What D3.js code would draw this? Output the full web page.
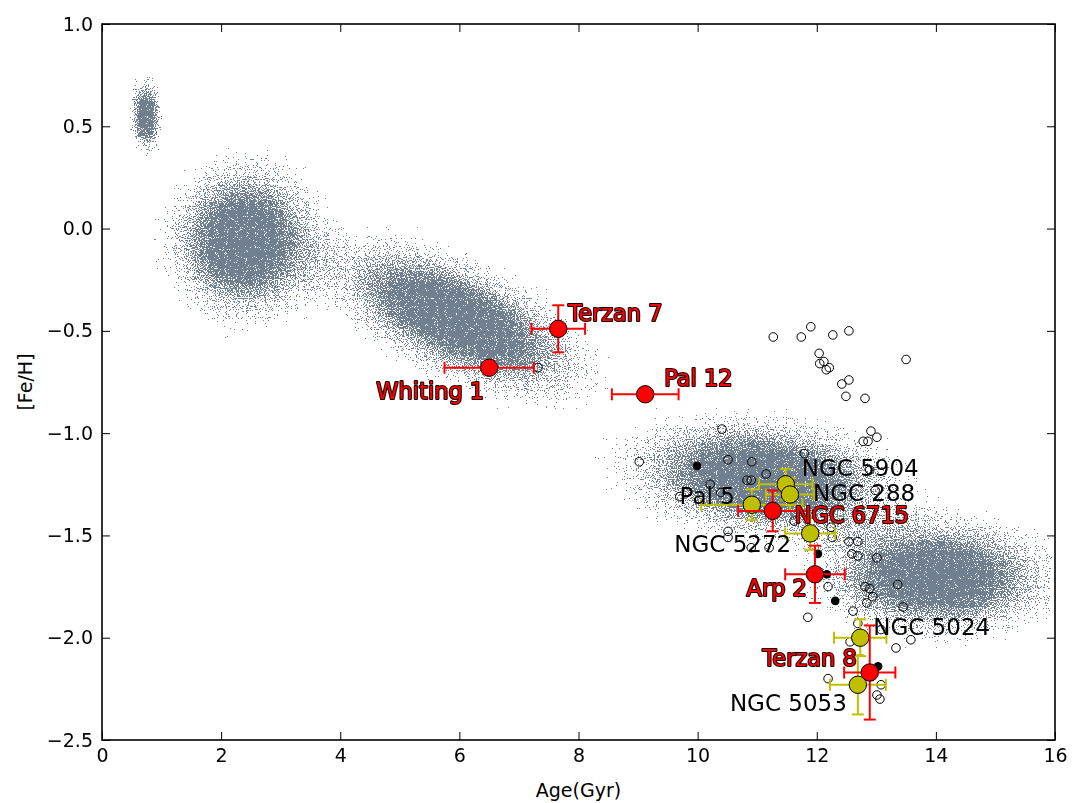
<!DOCTYPE html>
<html>
<head>
<meta charset="utf-8">
<script src="https://cdn.jsdelivr.net/npm/d3@7"></script>
<style>
  body { margin: 0; background: #fff; }
  text { font-family: "DejaVu Sans", sans-serif; }
</style>
</head>
<body>
<div id="chart-area"></div>
<script>
// ---- data ----
// stellar population clouds (centre, half extent, tilt of the major axis in dex/Gyr)
var cloudAge     = [0.74, 2.40, 5.95, 11.10, 14.00];
var cloudFeH     = [0.55, -0.06, -0.44, -1.22, -1.70];
var cloudAgeHalf = [0.36, 1.80, 3.00, 3.20, 2.80];
var cloudFeHHalf = [0.25, 0.54, 0.42, 0.40, 0.40];
var cloudSlope   = [0, 0, -0.135, -0.03, -0.01];

// red clusters
var redNames  = ["Whiting 1", "Terzan 7", "Pal 12", "NGC 6715", "Arp 2", "Terzan 8"];
var redAge    = [6.50, 7.66, 9.12, 11.26, 11.97, 12.89];
var redFeH    = [-0.68, -0.49, -0.81, -1.38, -1.69, -2.17];
var redAgeErr = [0.75, 0.45, 0.56, 0.58, 0.50, 0.43];
var redFeHErr = [0, 0.115, 0, 0.10, 0.14, 0.23];

// yellow clusters
var yelNames  = ["NGC 5904", "NGC 288", "Pal 5", "NGC 5272", "NGC 5024", "NGC 5053"];
var yelAge    = [11.48, 11.55, 10.91, 11.89, 12.73, 12.69];
var yelFeH    = [-1.25, -1.30, -1.35, -1.49, -2.00, -2.23];
var yelAgeErr = [0.45, 0.40, 0.85, 0.42, 0.44, 0.47];
var yelFeHErr = [0.075, 0.08, 0.075, 0.08, 0.09, 0.145];

// other clusters, open circles
var openAge = [11.27, 11.74, 11.90, 12.27, 12.54, 13.50, 12.04, 12.12, 12.05, 12.16,
               12.21, 12.42, 12.54, 12.49, 12.81, 10.41, 12.91, 13.01, 12.78, 12.86,
               9.02, 10.51, 10.91, 11.79, 11.15, 12.89, 10.21, 10.39, 10.83, 10.90,
               9.70, 12.98, 12.24, 12.26, 10.51, 10.51, 11.20, 10.90, 11.62, 12.54,
               12.69, 12.59, 12.69, 13.01, 12.19, 12.81, 12.89, 12.94, 12.84, 12.61,
               11.85, 13.36, 13.45, 12.69, 13.08, 13.58, 13.33, 12.56, 12.19, 13.08,
               13.01, 13.06, 7.32];
var openFeH = [-0.53, -0.53, -0.48, -0.52, -0.50, -0.64, -0.61, -0.65, -0.66, -0.69,
               -0.68, -0.76, -0.74, -0.82, -0.83, -0.98, -0.99, -1.02, -1.04, -1.04,
               -1.14, -1.13, -1.14, -1.10, -1.20, -1.18, -1.25, -1.29, -1.23, -1.23,
               -1.31, -1.28, -1.46, -1.51, -1.48, -1.51, -1.56, -1.56, -1.43, -1.53,
               -1.53, -1.59, -1.60, -1.61, -1.75, -1.75, -1.76, -1.80, -1.83, -1.87,
               -1.90, -1.74, -1.85, -1.93, -1.96, -2.01, -2.05, -2.02, -2.20, -2.23,
               -2.28, -2.30, -0.68];

// other clusters, filled dots
var dotAge = [9.99, 12.02, 12.17, 12.31, 13.03];
var dotFeH = [-1.16, -1.59, -1.69, -1.82, -2.14];

var xTicks = [0, 2, 4, 6, 8, 10, 12, 14, 16];
var yTicks = [1.0, 0.5, 0.0, -0.5, -1.0, -1.5, -2.0, -2.5];

// label placement (pixel offsets from the marker, text anchor)
var redLabelPos = [[-5, 31, "end"], [10, -8, "start"], [19, -8, "start"],
                   [22, 12, "start"], [-8, 22, "end"], [-13, -6, "end"]];
var yelLabelPos = [[16, -8, "start"], [23, 6, "start"], [-17, -1, "end"],
                   [-19, 19, "end"], [13, -3, "start"], [-11, 26, "end"]];

// ---- layout ----
var margin = { left: 102, right: 17, top: 24, bottom: 63 };
var width = 1072 - margin.left - margin.right,
    height = 803 - margin.top - margin.bottom;

var red = "#ff0000", yel = "#bfbf00", cloudColor = "#708090";

var svg = d3.select("#chart-area").append("svg")
    .attr("width", 1072).attr("height", 803);
var g = svg.append("g")
    .attr("transform", "translate(" + margin.left + "," + margin.top + ")");

var x = d3.scaleLinear().domain([0, 16]).range([0, width]);
var y = d3.scaleLinear().domain([-2.5, 1.0]).range([height, 0]);

var defs = svg.append("defs");
defs.append("clipPath").attr("id", "plotclip")
  .append("rect").attr("width", width).attr("height", height);

// soft density profile for a cloud
var grad = defs.append("radialGradient").attr("id", "cloudgrad");
[[0, 1], [0.3, 0.95], [0.5, 0.64], [0.7, 0.37], [0.85, 0.2], [1, 0]].forEach(function(s) {
  grad.append("stop").attr("offset", s[0]).attr("stop-color", "#000").attr("stop-opacity", s[1]);
});

// grain filter: density -> share of pixels that get a speck
var f = defs.append("filter").attr("id", "grain")
    .attr("filterUnits", "userSpaceOnUse")
    .attr("x", 0).attr("y", 0).attr("width", width).attr("height", height)
    .attr("color-interpolation-filters", "sRGB");
f.append("feTurbulence").attr("type", "fractalNoise").attr("baseFrequency", 0.9)
  .attr("numOctaves", 1).attr("seed", 5).attr("result", "noise");
f.append("feColorMatrix").attr("in", "noise").attr("type", "matrix")
  .attr("values", "0 0 0 0 0  0 0 0 0 0  0 0 0 0 0  0 0 0 1 0").attr("result", "na");
f.append("feComposite").attr("in", "SourceAlpha").attr("in2", "na").attr("operator", "arithmetic")
  .attr("k1", 0).attr("k2", 0.53).attr("k3", 1).attr("k4", -0.35).attr("result", "sum");
var ct = f.append("feComponentTransfer").attr("in", "sum").attr("result", "mask");
ct.append("feFuncA").attr("type", "discrete").attr("tableValues", "0 1");
f.append("feFlood").attr("flood-color", cloudColor).attr("result", "col");
f.append("feComposite").attr("in", "col").attr("in2", "mask").attr("operator", "in");

// ---- clouds ----
var kx = x(1) - x(0), ky = y(0) - y(1);
var clouds = g.append("g").attr("clip-path", "url(#plotclip)")
  .append("g").attr("filter", "url(#grain)");
cloudAge.forEach(function(a, i) {
  var dx = cloudAgeHalf[i] * kx,
      dy = -cloudSlope[i] * cloudAgeHalf[i] * ky;
  var ang = Math.atan2(dy, dx);
  var rx = Math.sqrt(dx * dx + dy * dy),
      ry = cloudFeHHalf[i] * ky * Math.cos(ang);
  clouds.append("ellipse")
    .attr("transform", "translate(" + x(a) + "," + y(cloudFeH[i]) + ") rotate(" + (ang * 180 / Math.PI) + ")")
    .attr("rx", rx).attr("ry", ry)
    .attr("fill", "url(#cloudgrad)");
});

// ---- other clusters ----
g.selectAll("circle.open").data(openAge).enter().append("circle")
  .attr("class", "open")
  .attr("cx", function(d) { return x(d); })
  .attr("cy", function(d, i) { return y(openFeH[i]); })
  .attr("r", 4.3)
  .attr("fill", "none").attr("stroke", "#000").attr("stroke-width", 1);

g.selectAll("circle.dot").data(dotAge).enter().append("circle")
  .attr("class", "dot")
  .attr("cx", function(d) { return x(d); })
  .attr("cy", function(d, i) { return y(dotFeH[i]); })
  .attr("r", 4.3).attr("fill", "#000");

// ---- error bar clusters ----
function drawErr(ages, fehs, aerr, ferr, color) {
  var eg = g.append("g").attr("stroke", color).attr("stroke-width", 2);
  var cap = 6;
  ages.forEach(function(a, i) {
    var cx = x(a), cy = y(fehs[i]);
    var x0 = x(a - aerr[i]), x1 = x(a + aerr[i]);
    eg.append("line").attr("x1", x0).attr("x2", x1).attr("y1", cy).attr("y2", cy);
    eg.append("line").attr("x1", x0).attr("x2", x0).attr("y1", cy - cap).attr("y2", cy + cap);
    eg.append("line").attr("x1", x1).attr("x2", x1).attr("y1", cy - cap).attr("y2", cy + cap);
    if (ferr[i] > 0) {
      var y0 = y(fehs[i] - ferr[i]), y1 = y(fehs[i] + ferr[i]);
      eg.append("line").attr("x1", cx).attr("x2", cx).attr("y1", y0).attr("y2", y1);
      eg.append("line").attr("x1", cx - cap).attr("x2", cx + cap).attr("y1", y0).attr("y2", y0);
      eg.append("line").attr("x1", cx - cap).attr("x2", cx + cap).attr("y1", y1).attr("y2", y1);
    }
  });
}
function drawMarkers(ages, fehs, color) {
  g.append("g").selectAll("circle").data(ages).enter().append("circle")
    .attr("cx", function(d) { return x(d); })
    .attr("cy", function(d, i) { return y(fehs[i]); })
    .attr("r", 8.7)
    .attr("fill", color).attr("stroke", "#000").attr("stroke-width", 1);
}

drawErr(yelAge, yelFeH, yelAgeErr, yelFeHErr, yel);
drawMarkers(yelAge, yelFeH, yel);
drawErr(redAge, redFeH, redAgeErr, redFeHErr, red);
drawMarkers(redAge, redFeH, red);

// ---- labels ----
yelNames.forEach(function(n, i) {
  var p = yelLabelPos[i];
  g.append("text")
    .attr("x", x(yelAge[i]) + p[0]).attr("y", y(yelFeH[i]) + p[1])
    .attr("text-anchor", p[2])
    .attr("font-size", "23px").attr("fill", "#000")
    .text(n);
});
redNames.forEach(function(n, i) {
  var p = redLabelPos[i];
  g.append("text")
    .attr("x", x(redAge[i]) + p[0]).attr("y", y(redFeH[i]) + p[1])
    .attr("text-anchor", p[2])
    .attr("font-size", "22.5px").attr("fill", red)
    .attr("stroke", "#1a0000").attr("stroke-width", 2.2)
    .attr("stroke-linejoin", "round")
    .style("paint-order", "stroke")
    .text(n);
});

// ---- axes ----
var fmt = d3.format(".1f");
var xAxis = g.append("g").attr("transform", "translate(0," + height + ")")
  .call(d3.axisBottom(x).tickValues(xTicks).tickFormat(d3.format("d"))
        .tickSizeInner(-8).tickSizeOuter(0).tickPadding(9));
var yAxis = g.append("g")
  .call(d3.axisLeft(y).tickValues(yTicks).tickFormat(fmt)
        .tickSizeInner(-8).tickSizeOuter(0).tickPadding(9));
var xTop = g.append("g")
  .call(d3.axisTop(x).tickValues(xTicks).tickFormat("").tickSizeInner(-8).tickSizeOuter(0));
var yRight = g.append("g").attr("transform", "translate(" + width + ",0)")
  .call(d3.axisRight(y).tickValues(yTicks).tickFormat("").tickSizeInner(-8).tickSizeOuter(0));

[xAxis, yAxis, xTop, yRight].forEach(function(a) {
  a.select(".domain").remove();
  a.selectAll(".tick line").attr("stroke", "#000").attr("stroke-width", 1);
  a.selectAll(".tick text")
    .attr("fill", "#000")
    .style("font-family", "'DejaVu Sans', sans-serif")
    .style("font-size", "19px");
});

g.append("rect")
  .attr("width", width).attr("height", height)
  .attr("fill", "none").attr("stroke", "#000").attr("stroke-width", 1.6);

// axis titles
svg.append("text")
  .attr("x", margin.left + width / 2).attr("y", 797)
  .attr("text-anchor", "middle").attr("font-size", "19px")
  .text("Age(Gyr)");
svg.append("text")
  .attr("transform", "translate(32," + (margin.top + height / 2) + ") rotate(-90)")
  .attr("text-anchor", "middle").attr("font-size", "19px")
  .text("[Fe/H]");
</script>
</body>
</html>
